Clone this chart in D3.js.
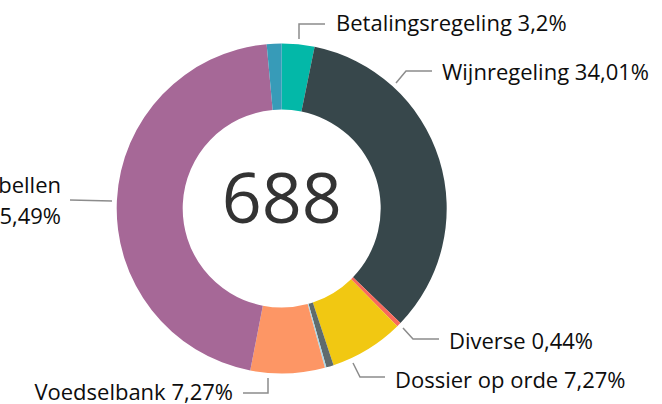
<!DOCTYPE html>
<html>
<head>
<meta charset="utf-8">
<script src="https://cdn.jsdelivr.net/npm/d3@7"></script>
<style>
  html, body { margin: 0; padding: 0; background: #fff; }
  #app { width: 662px; height: 404px; overflow: hidden; }
  text { font-family: 'Open Sans', sans-serif; }
</style>
</head>
<body>
<div id="app"></div>
<script>
// data
const categories = ['Betalingsregeling', 'Wijnregeling', 'Diverse', 'Dossier op orde', 'Overig', 'Overig 2', 'Voedselbank', 'Terugbellen', 'Overig 3']
const counts = [22, 234, 3, 50, 5, 1, 50, 313, 10]
const percentLabels = ['3,2%', '34,01%', '0,44%', '7,27%', '', '', '7,27%', '45,49%', '']
const total = 688
const colors = ['#03b8a8', '#37474b', '#f96a5b', '#f1c812', '#5f6b6d', '#a9d8e8', '#fd9665', '#a66897', '#379bb8']

const _config = {
  width: 662,
  height: 404,
  cx: 281.7,
  cy: 208.5,
  inner: 99,
  outer: 165,
  fontSize: 22,
}

// leader lines + text placement (index -> layout)
const labelLayout = [
  { i: 0, pts: [[299, 39], [299, 24], [325, 24]], tx: 336, ty: 23, anchor: 'start' },
  { i: 1, pts: [[396, 83], [406, 71], [432, 71]], tx: 442, ty: 72, anchor: 'start' },
  { i: 2, pts: [[403, 328], [413, 339], [439, 339]], tx: 449, ty: 341, anchor: 'start' },
  { i: 3, pts: [[353, 363], [360, 377], [385, 377]], tx: 395, ty: 380, anchor: 'start' },
  { i: 6, pts: [[268, 378], [268, 393], [243, 393]], tx: 233, ty: 392, anchor: 'end' },
  { i: 7, pts: [[112, 201], [70, 200]], tx: 61, ty: 185, anchor: 'end', twoLine: true },
]

const svg = d3.select('#app')
  .append('svg')
  .attr('width', _config.width)
  .attr('height', _config.height)

const pie = d3.pie()
  .sort(null)
  .value(d => d)

const arc = d3.arc()
  .innerRadius(_config.inner)
  .outerRadius(_config.outer)

const colorScale = d3.scaleOrdinal()
  .domain(d3.range(counts.length))
  .range(colors)

const g = svg.append('g')
  .attr('transform', `translate(${_config.cx}, ${_config.cy})`)

g.selectAll('path')
  .data(pie(counts))
  .enter()
  .append('path')
  .attr('d', arc)
  .attr('fill', (d, i) => colorScale(i))

// center total
g.append('text')
  .attr('text-anchor', 'middle')
  .attr('y', 14)
  .attr('font-size', 70)
  .attr('fill', '#333')
  .text(total)

// leaders
const line = d3.line()
svg.append('g')
  .selectAll('path')
  .data(labelLayout)
  .enter()
  .append('path')
  .attr('d', d => line(d.pts))
  .attr('fill', 'none')
  .attr('stroke', '#8c8c8c')
  .attr('stroke-width', 1.5)

const labels = svg.append('g')
  .selectAll('text')
  .data(labelLayout)
  .enter()
  .append('text')
  .attr('x', d => d.tx)
  .attr('y', d => d.ty)
  .attr('dy', '0.35em')
  .attr('text-anchor', d => d.anchor)
  .attr('font-size', _config.fontSize)
  .attr('fill', '#0d0d0d')

labels.each(function (d) {
  const t = d3.select(this)
  if (d.twoLine) {
    t.append('tspan').attr('x', d.tx).text(categories[d.i])
    t.append('tspan').attr('x', d.tx).attr('dy', 31).text(percentLabels[d.i])
  } else {
    t.text(`${categories[d.i]} ${percentLabels[d.i]}`)
  }
})
</script>
</body>
</html>
